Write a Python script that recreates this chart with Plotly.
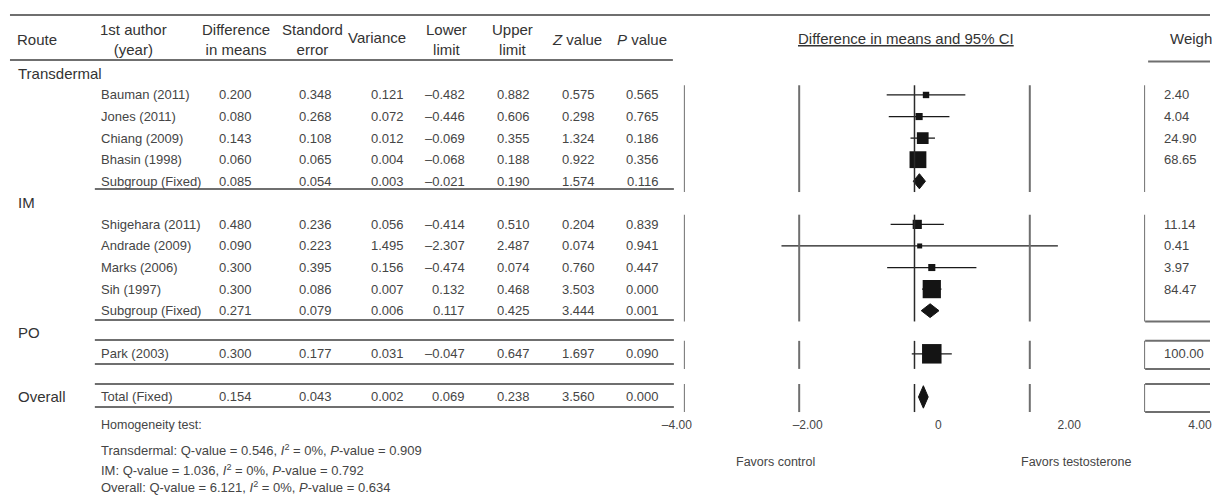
import plotly.graph_objects as go

W, H = 1212, 502
FONT = "Liberation Sans, Arial, sans-serif"

# ---------------- data ----------------
group_labels = ["Transdermal", "IM", "PO", "Overall"]

authors = ["Bauman (2011)", "Jones (2011)", "Chiang (2009)", "Bhasin (1998)", "Subgroup (Fixed)",
           "Shigehara (2011)", "Andrade (2009)", "Marks (2006)", "Sih (1997)", "Subgroup (Fixed)",
           "Park (2003)", "Total (Fixed)"]
diff_means = [0.200, 0.080, 0.143, 0.060, 0.085, 0.480, 0.090, 0.300, 0.300, 0.271, 0.300, 0.154]
std_error = [0.348, 0.268, 0.108, 0.065, 0.054, 0.236, 0.223, 0.395, 0.086, 0.079, 0.177, 0.043]
variance = [0.121, 0.072, 0.012, 0.004, 0.003, 0.056, 1.495, 0.156, 0.007, 0.006, 0.031, 0.002]
lower_limit = [-0.482, -0.446, -0.069, -0.068, -0.021, -0.414, -2.307, -0.474, 0.132, 0.117, -0.047, 0.069]
upper_limit = [0.882, 0.606, 0.355, 0.188, 0.190, 0.510, 2.487, 0.074, 0.468, 0.425, 0.647, 0.238]
z_value = [0.575, 0.298, 1.324, 0.922, 1.574, 0.204, 0.074, 0.760, 3.503, 3.444, 1.697, 3.560]
p_value = [0.565, 0.765, 0.186, 0.356, 0.116, 0.839, 0.941, 0.447, 0.000, 0.001, 0.090, 0.000]
weight_text = ["2.40", "4.04", "24.90", "68.65", "", "11.14", "0.41", "3.97", "84.47", "", "100.00", ""]

# values as drawn in the forest panel
study_est = [0.200, 0.080, 0.143, 0.060, 0.048, 0.090, 0.300, 0.300, 0.300]
study_lo = [-0.482, -0.446, -0.069, -0.068, -0.414, -2.307, -0.474, 0.132, -0.047]
study_hi = [0.882, 0.606, 0.355, 0.188, 0.510, 2.487, 1.074, 0.468, 0.647]
study_weight = [2.40, 4.04, 24.90, 68.65, 11.14, 0.41, 3.97, 84.47, 100.00]
pooled_est = [0.085, 0.271, 0.154]
pooled_lo = [-0.021, 0.117, 0.069]
pooled_hi = [0.190, 0.425, 0.238]

axis_ticks = [-4, -2, 0, 2, 4]
axis_ticktext = ["–4.00", "–2.00", "0", "2.00", "4.00"]

homogeneity_title = "Homogeneity test:"
homogeneity_lines = [
    "Transdermal: Q-value = 0.546, <i>I</i><sup>2</sup> = 0%, <i>P</i>-value = 0.909",
    "IM: Q-value = 1.036, <i>I</i><sup>2</sup> = 0%, <i>P</i>-value = 0.792",
    "Overall: Q-value = 6.121, <i>I</i><sup>2</sup> = 0%, <i>P</i>-value = 0.634",
]

# ---------------- layout (positions) ----------------
ROW0_PX, ROW_H = 73.4, 21.57          # pixel centre of row 0 and row pitch
group_rows = [0, 6, 12, 15]
table_rows = [1, 2, 3, 4, 5, 7, 8, 9, 10, 11, 13, 15]
study_rows = [1, 2, 3, 4, 7, 8, 9, 10, 13]
pooled_rows = [5, 11, 15]
pooled_half = [0.35, 0.32, 0.52]
sections = [(0.55, 5.5), (6.55, 11.5), (12.4, 13.7), (14.4, 15.7)]

X_LEFT_PX, X_RIGHT_PX = 685, 1147     # forest axis -4 .. 4
TICK0_PX, TICK_SLOPE = 940.0, 65.5    # tick label axis mapping

TXT_DARK = "#333333"
TXT_DATA = "#454545"
LINE_GRAY = "#6f6f6f"


def px(x):
    return x / W


def py(y):
    return 1 - y / H


ann = []


def text(x, y, s, size, anchor="center", yref="paper", color=TXT_DATA):
    ann.append(dict(x=px(x), y=(py(y) if yref == "paper" else y), xref="paper", yref=yref,
                    text=s, showarrow=False, xanchor=anchor, yanchor="middle",
                    font=dict(family=FONT, size=size, color=color)))


def fmt(v):
    return f"{v:.3f}".replace("-", "–")


# header
text(15, 39, "Route", 15, "left", color=TXT_DARK)
text(98, 39.5, "1st author<br>(year)", 15, "left", color=TXT_DARK)
text(236, 39.5, "Difference<br>in means", 15, color=TXT_DARK)
text(313, 39.5, "Standord<br>error", 15, color=TXT_DARK)
text(378, 37, "Variance", 15, color=TXT_DARK)
text(447, 39.5, "Lower<br>limit", 15, color=TXT_DARK)
text(513, 39.5, "Upper<br>limit", 15, color=TXT_DARK)
text(578, 39, "<i>Z</i> value", 15, color=TXT_DARK)
text(643, 39, "<i>P</i> value", 15, color=TXT_DARK)
text(907, 38, "<u>Difference in means and 95% CI</u>", 15, color=TXT_DARK)
text(1170, 38, "Weight", 15, "left", color=TXT_DARK)

for lab, r in zip(group_labels, group_rows):
    text(16, r, lab, 15, "left", yref="y", color=TXT_DARK)

for i, r in enumerate(table_rows):
    text(99, r, authors[i], 13, "left", yref="y")
    text(236, r, fmt(diff_means[i]), 13, yref="y")
    text(316, r, fmt(std_error[i]), 13, yref="y")
    text(388, r, fmt(variance[i]), 13, yref="y")
    text(468, r, fmt(lower_limit[i]), 13, "right", yref="y")
    text(514, r, fmt(upper_limit[i]), 13, yref="y")
    text(579, r, fmt(z_value[i]), 13, yref="y")
    text(644, r, fmt(p_value[i]), 13, yref="y")
    if weight_text[i]:
        text(1164, r, weight_text[i], 13, "left", yref="y")

text(99, 425, homogeneity_title, 12.5, "left")
for s, y in zip(homogeneity_lines, [450, 470, 487]):
    text(99, y, s, 13, "left")

text(777, 462, "Favors control", 12.5)
text(1078, 462, "Favors testosterone", 12.5)

# ---------------- shapes ----------------
shapes = []


def hline(y_px, x0, x1, width=2, color=LINE_GRAY):
    shapes.append(dict(type="line", xref="paper", yref="paper", x0=px(x0), x1=px(x1),
                       y0=py(y_px), y1=py(y_px), line=dict(color=color, width=width)))


hline(15, 10, W)
hline(60, 10, 674)
hline(61.5, 1150, W)
for y in [189, 320, 340, 364, 384, 407]:
    hline(y, 95, 675)

# forest grid segments
for (y0, y1) in sections:
    for xv in axis_ticks:
        shapes.append(dict(type="line", xref="x", yref="y", x0=xv, x1=xv, y0=y0, y1=y1,
                           line=dict(color=("#2a2a2a" if xv == 0 else LINE_GRAY),
                                     width=(1.5 if xv == 0 else 2))))


# weight boxes
def wline(yrow):
    shapes.append(dict(type="line", xref="paper", yref="y", x0=px(X_RIGHT_PX), x1=1,
                       y0=yrow, y1=yrow, line=dict(color=LINE_GRAY, width=2)))


wline(sections[1][1])
for (y0, y1) in sections[2:]:
    wline(y0)
    wline(y1)

# ---------------- traces ----------------
fig = go.Figure()

sizes = [4 + 1.55 * w ** 0.5 for w in study_weight]
fig.add_trace(go.Scatter(
    x=study_est, y=study_rows, mode="markers",
    marker=dict(symbol="square", size=sizes, color="#141414", opacity=1, line=dict(width=0)),
    error_x=dict(type="data", symmetric=False,
                 array=[h - e for h, e in zip(study_hi, study_est)],
                 arrayminus=[e - l for e, l in zip(study_est, study_lo)],
                 color="#1a1a1a", thickness=1.3, width=0),
    hoverinfo="skip", showlegend=False))

for e, lo, hi, r, hh in zip(pooled_est, pooled_lo, pooled_hi, pooled_rows, pooled_half):
    fig.add_trace(go.Scatter(
        x=[lo, e, hi, e, lo], y=[r, r - hh, r, r + hh, r], mode="lines", fill="toself",
        fillcolor="#141414", line=dict(color="#141414", width=1),
        hoverinfo="skip", showlegend=False))

# carrier for the tick-label axis
fig.add_trace(go.Scatter(x=axis_ticks, y=[None] * len(axis_ticks), xaxis="x2", yaxis="y",
                         mode="markers", hoverinfo="skip", showlegend=False))

y_top = -ROW0_PX / ROW_H
y_bot = (H - ROW0_PX) / ROW_H

fig.update_layout(
    width=W, height=H, margin=dict(l=0, r=0, t=0, b=0),
    paper_bgcolor="white", plot_bgcolor="rgba(0,0,0,0)",
    xaxis=dict(domain=[px(X_LEFT_PX), px(X_RIGHT_PX)], range=[-4, 4], visible=False,
               fixedrange=True),
    xaxis2=dict(domain=[0, 1], anchor="free", position=py(416),
                range=[(0 - TICK0_PX) / TICK_SLOPE, (W - TICK0_PX) / TICK_SLOPE],
                tickvals=axis_ticks, ticktext=axis_ticktext, showgrid=False, zeroline=False,
                showline=False, ticks="", ticklabeloverflow="allow",
                tickfont=dict(family=FONT, size=12, color=TXT_DATA),
                fixedrange=True),
    yaxis=dict(domain=[0, 1], range=[y_bot, y_top], visible=False, fixedrange=True),
    annotations=ann, shapes=shapes,
)

fig.write_html("out.html", config={"displayModeBar": False},
               post_script="document.body.style.margin='0px';"
                           "document.body.style.overflow='hidden';")
